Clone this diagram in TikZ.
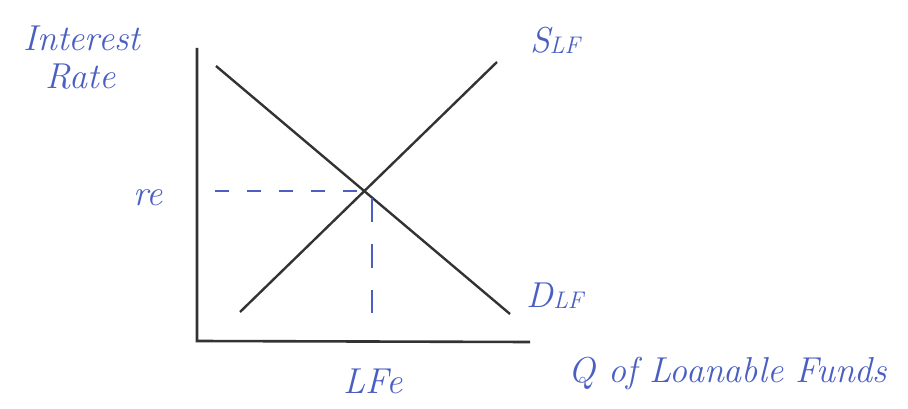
\documentclass[tikz,border=0pt]{standalone}
\usepackage{tikz}
\usetikzlibrary{positioning,calc}
\usepackage{xcolor}
\definecolor{Pen}{HTML}{4A5FC1}
\definecolor{Ink}{HTML}{333333}
\newcommand{\SubLF}{\raisebox{-1pt}{\fontsize{24}{26}\selectfont LF}}
\tikzset{
  axisline/.style={Ink,line width=2.6pt},
  curveline/.style={Ink,line width=2.4pt},
  guideline/.style={Pen,line width=2.2pt,dash pattern=on 14pt off 18pt},
  penlabel/.style={text=Pen,font=\fontsize{36}{38}\selectfont\itshape,inner sep=1pt}
}

\begin{document}
\begin{tikzpicture}[x=1pt,y=-1pt]
\useasboundingbox (0,0) rectangle (908,409);
% axes
\coordinate (top) at (197,48);
\coordinate (origin) at (197,341);
\coordinate (right) at (530,342);
\draw[axisline] (top) -- (origin) -- (right);
% supply and demand
\coordinate (s0) at (240,312);
\coordinate (s1) at (497,62);
\coordinate (d0) at (216,66);
\coordinate (d1) at (510,314);
\draw[curveline] (s0) -- (s1);
\draw[curveline] (d0) -- (d1);
\coordinate (eq) at (365,191);
% guides
\coordinate (rleft) at (215,191);
\coordinate (qtop) at (372,198);
\coordinate (qbot) at (372,313);
\draw[guideline] (rleft) -- (eq);
\draw[guideline,dash pattern=on 24pt off 22pt] (qtop) -- (qbot);
% labels
\node[penlabel,align=left] (yname) at (82,58) {Interest\\[0pt]\hspace*{22pt}Rate};
\node[penlabel] (slabel) at (555,40) {S\SubLF};
\node[penlabel] (dlabel) at (555,296) {D\SubLF};
\node[penlabel] (rlabel) at (148,198) {re};
\node[penlabel] (qlabel) at (373,381) {LFe};
\node[penlabel] (xname) at (728,373) {Q of Loanable Funds};
\end{tikzpicture}
\end{document}
